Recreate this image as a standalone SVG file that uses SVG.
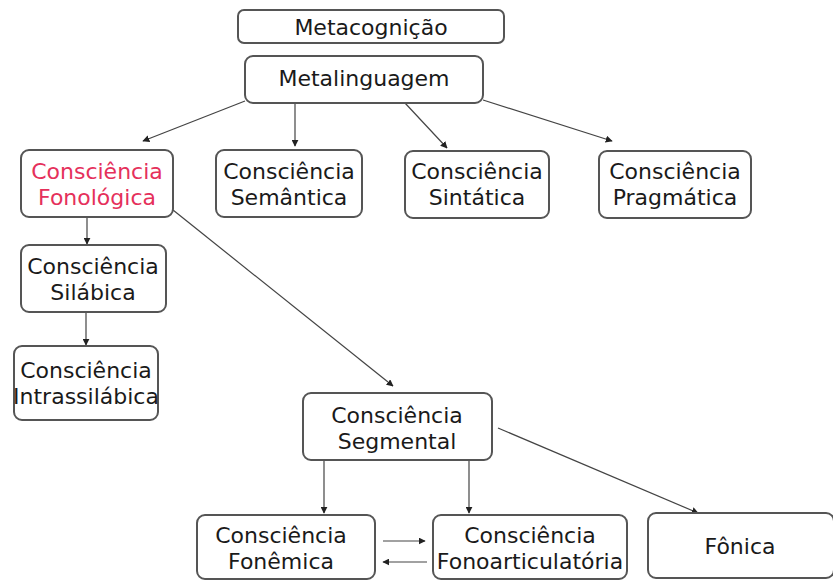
<svg xmlns="http://www.w3.org/2000/svg" width="833" height="581" viewBox="0 0 833 581">
<style>
.box{fill:#fff;stroke:#555;stroke-width:2}
.t{font-family:"DejaVu Sans",Verdana,sans-serif;font-size:22px;fill:#1a1a1a;text-anchor:middle}
.red{fill:#e5305b}
.c{stroke:#444;stroke-width:1.2;fill:none;marker-end:url(#ah)}
</style>
<defs>
<marker id="ah" viewBox="0 0 10 10" refX="9" refY="5" markerWidth="7" markerHeight="7" markerUnits="userSpaceOnUse" orient="auto">
<path d="M0,0 L10,5 L0,10 z" fill="#222"/>
</marker>
</defs>
<rect width="833" height="581" fill="#fff"/>
<g id="connectors">
<line class="c" x1="245" y1="101" x2="143" y2="141"/>
<line class="c" x1="295" y1="103" x2="295" y2="146"/>
<line class="c" x1="405" y1="103" x2="447" y2="148"/>
<line class="c" x1="483" y1="100" x2="612" y2="141"/>
<line class="c" x1="87" y1="217" x2="87" y2="244"/>
<line class="c" x1="86" y1="312" x2="86" y2="345"/>
<line class="c" x1="173" y1="210" x2="393" y2="386"/>
<line class="c" x1="324" y1="460" x2="324" y2="513"/>
<line class="c" x1="469" y1="460" x2="469" y2="513"/>
<line class="c" x1="498" y1="428" x2="698" y2="513"/>
<line class="c" x1="383" y1="541" x2="425" y2="541"/>
<line class="c" x1="427" y1="562" x2="383" y2="562"/>
</g>
<g id="metacognicao">
<rect class="box" x="238" y="10" width="266" height="33" rx="6"/>
<text class="t" x="371" y="35">Metacognição</text>
</g>
<g id="metalinguagem">
<rect class="box" x="245" y="56" width="238" height="47" rx="8"/>
<text class="t" x="364" y="86">Metalinguagem</text>
</g>
<g id="fonologica">
<rect class="box" x="21" y="150" width="152" height="67" rx="8"/>
<text class="t red" x="97" y="179">Consciência</text>
<text class="t red" x="97" y="205">Fonológica</text>
</g>
<g id="semantica">
<rect class="box" x="216" y="150" width="146" height="67" rx="8"/>
<text class="t" x="289" y="179">Consciência</text>
<text class="t" x="289" y="205">Semântica</text>
</g>
<g id="sintatica">
<rect class="box" x="405" y="151" width="144" height="67" rx="8"/>
<text class="t" x="477" y="179">Consciência</text>
<text class="t" x="477" y="205">Sintática</text>
</g>
<g id="pragmatica">
<rect class="box" x="599" y="151" width="152" height="67" rx="8"/>
<text class="t" x="675" y="179">Consciência</text>
<text class="t" x="675" y="205">Pragmática</text>
</g>
<g id="silabica">
<rect class="box" x="21" y="245" width="145" height="67" rx="8"/>
<text class="t" x="93" y="274">Consciência</text>
<text class="t" x="93" y="300">Silábica</text>
</g>
<g id="intrassilabica">
<rect class="box" x="14" y="346" width="144" height="74" rx="8"/>
<text class="t" x="86" y="378">Consciência</text>
<text class="t" x="86" y="404">Intrassilábica</text>
</g>
<g id="segmental">
<rect class="box" x="303" y="393" width="189" height="67" rx="8"/>
<text class="t" x="397" y="423">Consciência</text>
<text class="t" x="397" y="449">Segmental</text>
</g>
<g id="fonemica">
<rect class="box" x="197" y="515" width="178" height="64" rx="8"/>
<text class="t" x="281" y="543">Consciência</text>
<text class="t" x="281" y="569">Fonêmica</text>
</g>
<g id="fonoarticulatoria">
<rect class="box" x="433" y="515" width="194" height="64" rx="8"/>
<text class="t" x="530" y="543">Consciência</text>
<text class="t" x="530" y="569">Fonoarticulatória</text>
</g>
<g id="fonica">
<rect class="box" x="648" y="513" width="186" height="65" rx="8"/>
<text class="t" x="740" y="554">Fônica</text>
</g>
</svg>
